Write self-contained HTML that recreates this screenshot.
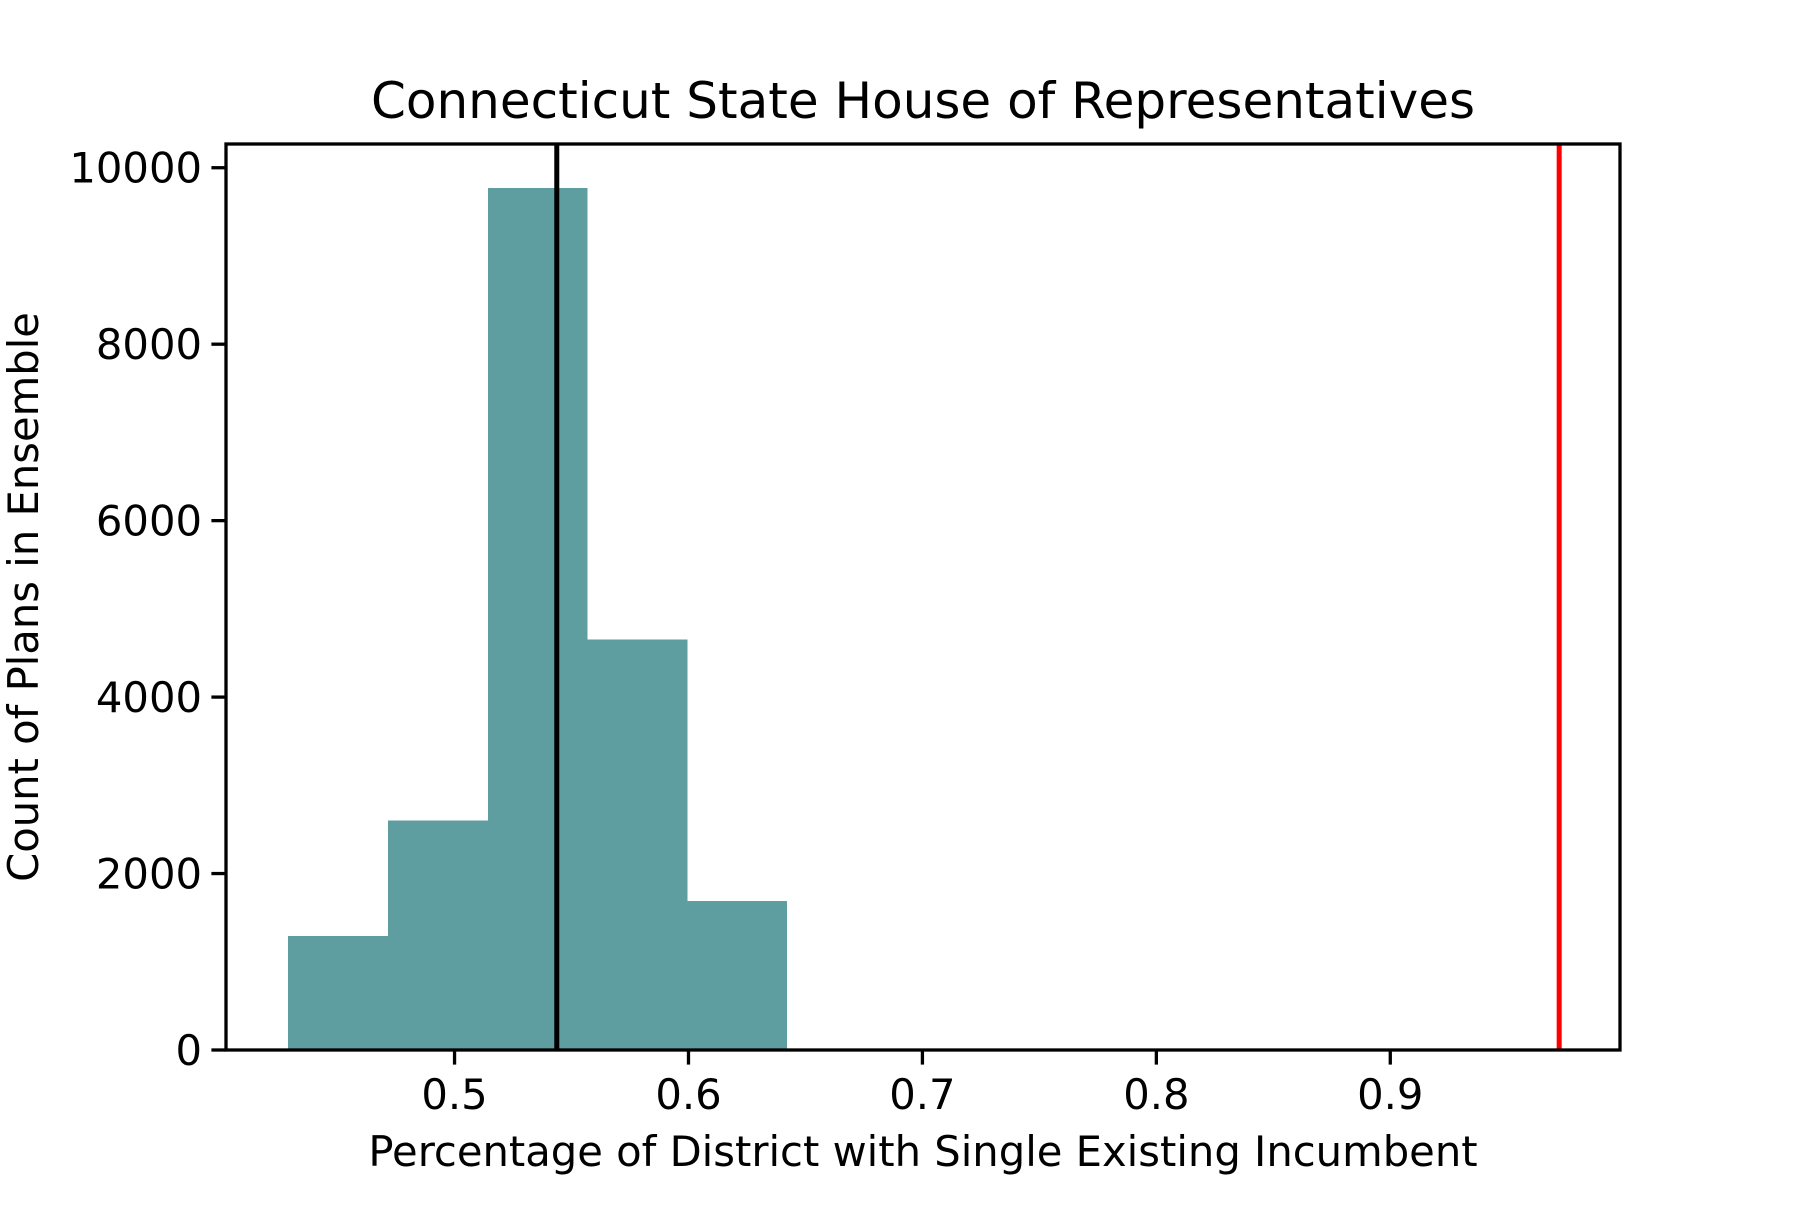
<!DOCTYPE html>
<html><head><meta charset="utf-8"><style>
html,body{margin:0;padding:0;background:#fff}
svg text{font-family:"DejaVu Sans","Liberation Sans",sans-serif;fill:#000}
</style></head><body>
<svg id="chart" width="1800" height="1200" viewBox="0 0 1800 1200" xmlns="http://www.w3.org/2000/svg">
<rect width="1800" height="1200" fill="#fff"/>
<text x="923" y="118" font-size="50" text-anchor="middle">Connecticut State House of Representatives</text>
<g id="bars" shape-rendering="crispEdges"></g>
<g id="vlines"></g>
<g id="axes"></g>
<text x="923" y="1166" font-size="41.7" text-anchor="middle">Percentage of District with Single Existing Incumbent</text>
<text x="38" y="597" font-size="41.7" text-anchor="middle" transform="rotate(-90 38 597)">Count of Plans in Ensemble</text>
</svg>
<script>
const binEdges = [0.4289, 0.4716, 0.5144, 0.5566, 0.5993, 0.6418];
const counts = [1290, 2600, 9770, 4650, 1690];
const xTicks = [0.5, 0.6, 0.7, 0.8, 0.9];
const xTickLabels = ["0.5", "0.6", "0.7", "0.8", "0.9"];
const yTicks = [0, 2000, 4000, 6000, 8000, 10000];
const yTickLabels = ["0", "2000", "4000", "6000", "8000", "10000"];
const meanValue = [0.5437];
const enactedValue = [0.9722];

const L=226, R=1620, T=144, B=1050;
const xMin=0.4023, xMax=0.9982, yMax=10269;
const NS="http://www.w3.org/2000/svg";
const xs=v=>L+(v-xMin)/(xMax-xMin)*(R-L);
const ys=v=>B-v/yMax*(B-T);
function mk(tag,attrs,parent){const e=document.createElementNS(NS,tag);for(const k in attrs)e.setAttribute(k,attrs[k]);parent.appendChild(e);return e;}
const bars=document.getElementById('bars');
counts.forEach((c,i)=>{
  const r=mk('rect',{x:xs(binEdges[i]),y:ys(c),width:xs(binEdges[i+1])-xs(binEdges[i])+0.6,height:B-ys(c),fill:'#5f9ea0'},bars);
  
  
});
const vl=document.getElementById('vlines');
const m=mk('line',{x1:xs(meanValue[0]),x2:xs(meanValue[0]),y1:T,y2:B,stroke:'#000','stroke-width':5},vl);


const e=mk('line',{x1:xs(enactedValue[0]),x2:xs(enactedValue[0]),y1:T,y2:B,stroke:'#ff0000','stroke-width':5},vl);


const ax=document.getElementById('axes');
const fr=mk('rect',{x:L,y:T,width:R-L,height:B-T,fill:'none',stroke:'#000','stroke-width':3.3},ax);


xTicks.forEach((v,i)=>{
  const x=xs(v);
  const t=mk('line',{x1:x,x2:x,y1:B,y2:B+14.6,stroke:'#000','stroke-width':3.3},ax);
  
  
  const tx=mk('text',{x:x,y:B+59,'font-size':41.7,'text-anchor':'middle'},ax);
  tx.textContent=xTickLabels[i];
  
  
});
yTicks.forEach((v,i)=>{
  const y=ys(v);
  const t=mk('line',{x1:L-14.6,x2:L,y1:y,y2:y,stroke:'#000','stroke-width':3.3},ax);
  
  
  const tx=mk('text',{x:L-24,y:y+15,'font-size':41.7,'text-anchor':'end'},ax);
  tx.textContent=yTickLabels[i];
  
  
});
</script>
</body></html>
